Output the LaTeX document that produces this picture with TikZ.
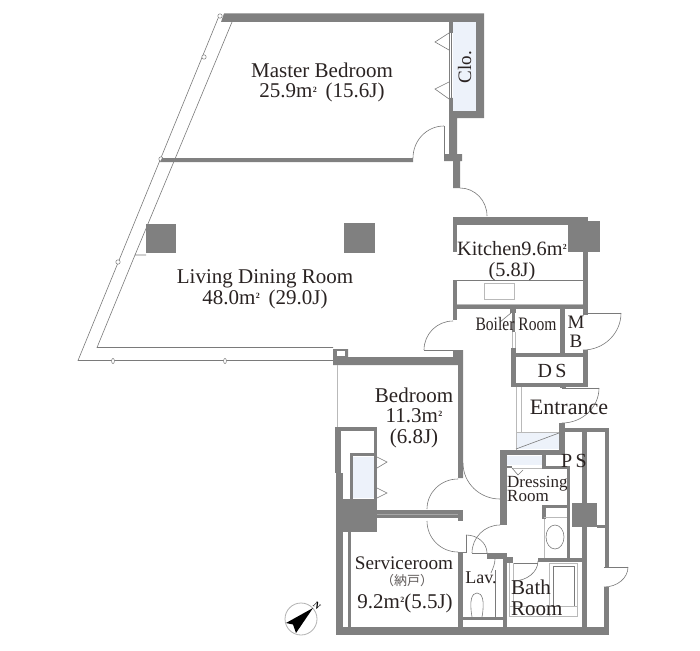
\documentclass[tikz,border=0pt]{standalone}
\usepackage{fontspec}
\setmainfont{Liberation Serif}
\newfontfamily\cjkjp{Noto Sans CJK JP}
\definecolor{wallgray}{HTML}{808080}
\definecolor{thingray}{HTML}{7A7A7A}
\definecolor{closetblue}{HTML}{EDF2FA}
\definecolor{labelink}{HTML}{2A2322}
\newcommand{\sqm}{m\kern.02em\raisebox{.55ex}{\scalebox{.38}{\bfseries 2}}}
\newcommand{\wl}[4]{\fill[wallfill] (#1,#2) rectangle (#3,#4);}
% door swing from P0 (#3,#4) to P1 (#5,#6) around centre (#1,#2)
\newcommand{\swing}[6]{\draw[thinline] (#3,#4) .. controls ({#3+.5523*(#5-#1)},{#4+.5523*(#6-#2)}) and ({#5+.5523*(#3-#1)},{#6+.5523*(#4-#2)}) .. (#5,#6);}
\tikzset{
  wallfill/.style={fill=wallgray},
  thinline/.style={draw=thingray,line width=.6pt},
  paleline/.style={draw=gray!55,line width=.6pt},
  closet/.style={fill=closetblue},
  knob/.style={draw=thingray,fill=white,line width=.5pt},
  roomlabel/.style={text=labelink,inner sep=0pt,anchor=base,font=\fontsize{21}{22}\selectfont},
  smalllabel/.style={text=labelink,inner sep=0pt,anchor=base west,font=\fontsize{17}{19}\selectfont},
}
\begin{document}
\begin{tikzpicture}[x=1pt,y=-1pt]
\useasboundingbox (0,0) rectangle (700,650);
\fill[white] (0,0) rectangle (700,650);
% glazing
\draw[thinline] (219,16) -- (78,360.5) -- (333,360.5);
\draw[thinline] (232,22) -- (135,255) -- (146,255);
\draw[thinline] (135,255) -- (97,347.5) -- (333,347.5);
\foreach \kx/\ky in {220/16,204/57,161/159,118/262}{\draw[knob] (\kx,\ky) ellipse (2.2 and 2.2);}
\foreach \kx/\ky in {113/361,225/361}{\draw[knob] (\kx,\ky) ellipse (1.4 and 2.6);}
% master bedroom walls
\fill[wallfill] (224,13.5) -- (484,13.5) -- (484,118) -- (457,118) -- (457,154) -- (462,154) -- (462,161) -- (460,161) -- (460,188) -- (453,188) -- (453,161) -- (444,161) -- (444,154) -- (449,154) -- (449,98) -- (453,98) -- (453,33) -- (449,33) -- (449,22) -- (221,22) -- cycle;
\fill[closet] (453,22) rectangle (476,111);
\wl{449}{33}{449.8}{98}
\draw[thinline] (451,33) -- (451,98);
\draw[thinline] (449,33) -- (435,42) -- (449,50);
\draw[thinline] (449,82) -- (435,89) -- (449,99);
\fill[wallfill] (162,158) -- (413,158) -- (413,162) -- (160,162) -- cycle;
\draw[thinline] (444,126) -- (444,158);
\swing{444}{158}{444}{126}{413}{158}
\swing{460}{216}{460}{188}{487}{216}
% columns
\wl{146}{224}{176}{253}
\wl{344}{223}{375}{253}
% kitchen
\wl{453}{217}{588}{225}
\wl{453}{217}{457}{252}
\wl{453}{280}{457}{320}
\wl{568}{225}{583}{252}
\wl{583}{221}{600}{252}
\wl{583}{218}{588}{315}
\draw[thinline] (457,280.5) -- (583,280.5);
\draw[paleline] (457,304) -- (583,304);
\wl{453}{305}{588}{309}
\draw[paleline] (484,283) rectangle (514,299);
% boiler room, MB, DS
\wl{510}{309}{516}{313}
\wl{512}{313}{515}{332}
\draw[paleline] (512,332) -- (512,348);
\draw[paleline] (515,332) -- (515,348);
\draw[thinline] (511,313) -- (500,322);
\wl{560}{309}{565}{353}
\wl{511}{353}{588}{357}
\wl{511}{348}{516}{387}
\wl{511}{383}{588}{387}
\wl{583}{350}{588}{387}
\draw[thinline] (583,313) -- (621,313);
\swing{583}{313}{621}{313}{583}{350}
\swing{453}{350}{453}{321}{424}{350}
\draw[thinline] (424,350) -- (453,350);
% bedroom
\fill[wallfill] (333,349) -- (348,349) -- (348,357) -- (453,357) -- (453,350) -- (463,350) -- (463,478) -- (458,478) -- (458,365) -- (333,365) -- cycle;
\fill[white] (337,351) rectangle (345,356);
\draw[paleline] (337,365) -- (337,427);
\wl{335}{427}{377}{431}
\wl{335}{427}{341}{473}
\wl{336}{473}{343}{500}
\wl{374}{427}{377}{500}
\wl{350}{453}{374}{456}
\wl{350}{453}{353}{499}
\fill[closet] (353,457) rectangle (374,498);
\draw[thinline] (377,457) -- (387,462) -- (377,468);
\draw[thinline] (377,488) -- (387,493) -- (377,498);
\wl{336}{499}{377}{532}
\swing{458}{509}{458}{479}{427}{509}
\wl{377}{510}{463}{518}
\draw[draw=gray!70,line width=.5pt] (377,514) -- (458,514);
\wl{458}{510}{463}{521}
\swing{458}{521}{427}{521}{458}{552}
\swing{500}{463}{463}{463}{500}{499}
% service room
\wl{458}{552}{463}{627}
\wl{336}{532}{343}{627}
\wl{347.5}{532}{351}{627}
\wl{336}{627}{609}{635}
% lavatory
\draw[thinline] (466,535) -- (466,553);
\wl{463}{552}{466}{553}
\swing{466}{553}{466}{535}{487}{553}
\wl{487}{553}{507}{559}
\wl{503}{553}{507}{627}
\wl{507}{557}{513}{563}
\swing{500}{553}{500}{525}{472}{553}
\draw[thinline] (472,553) -- (487,553);
\draw[thinline] (495,559) .. controls (495,564) and (493,568) .. (491,573);
\draw[thinline] (495,570) -- (495,617);
\draw[thinline] (472,617) .. controls (469,600) and (472,593) .. (477,593) .. controls (482,593) and (485,600) .. (482,617);
\wl{463}{617}{503}{620}
% dressing room
\wl{500}{450}{507}{525}
\wl{500}{450}{559}{455}
\fill[closet] (507,456) rectangle (542,465);
\wl{542}{455}{546}{469}
\wl{542}{466}{570}{469}
\wl{507}{466}{512}{468}
\draw[paleline] (512,468) -- (542,468);
\draw[thinline] (512,468) -- (518,475) -- (523,470);
\wl{567}{466}{570}{558}
\wl{542}{505}{546}{519}
\wl{542}{505}{567}{508}
\draw[paleline] (544,517.5) -- (567,517.5);
\draw[paleline] (544,519) -- (544,558);
\draw[thinline] (555,537) ellipse (9 and 12);
% bath
\wl{538}{557.5}{582}{561.5}
\draw[thinline] (513,563) -- (538,563);
\swing{513}{561}{538}{561}{513}{581}
\draw[paleline] (509,563) -- (509,616) -- (577,616) -- (577,563) -- (549,563);
\draw[paleline] (549,563) -- (549,616);
\draw[paleline] (513,563) -- (513,606);
\draw[thinline] (553,566) rectangle (574,606);
\draw[paleline] (509,606) -- (577,606);
% entrance
\fill[closet] (516,433) -- (559,433) -- (559,449) -- (516,449) -- cycle;
\draw[paleline] (516,387) -- (516,450);
\draw[paleline] (521,387) -- (521,432);
\draw[paleline] (516,432) -- (559,432);
\draw[thinline] (516,449) -- (559,433);
\wl{560}{386}{566}{388}
\draw[thinline] (562,388) -- (599,388);
\swing{562}{388}{599}{388}{562}{423}
\wl{559}{423}{565}{455}
% PS shaft and outer east wall
\wl{565}{428}{609}{432}
\wl{582}{432}{587}{627}
\wl{605}{432}{609}{568}
\wl{604}{587}{609}{635}
\wl{572}{503}{597}{527}
\wl{597}{525}{605}{528}
\draw[thinline] (604,567) -- (628,567);
\swing{604}{567}{628}{567}{604}{587}
% north mark
\draw[draw=gray!60,line width=.8pt] (301,619) circle (16);
\fill[black] (313,608) -- (286,623) -- (293,624.5) -- (296,633) -- cycle;
\node[rotate=-45,inner sep=0pt,font=\bfseries\fontsize{9}{9}\selectfont] (north) at (317,606) {N};
% labels
\node[roomlabel] (mbname) at (322,78) {Master Bedroom};
\node[roomlabel] (mbarea) at (322,98) {25.9\sqm\,\ (15.6J)};
\node[roomlabel,rotate=90,font=\fontsize{19}{20}\selectfont] (clo) at (471,67) {Clo.};
\node[roomlabel] (ldname) at (265,283) {Living Dining Room};
\node[roomlabel] (ldarea) at (265,304) {48.0\sqm\,\ (29.0J)};
\node[roomlabel,font=\fontsize{20.3}{22}\selectfont] (kitname) at (512,255) {Kitchen9.6\sqm};
\node[roomlabel,font=\fontsize{20.3}{22}\selectfont] (kitarea) at (512,276) {(5.8J)};
\node[roomlabel,font=\fontsize{19}{20}\selectfont,xscale=.82] (boiler) at (516,330) {Boiler Room};
\node[roomlabel,font=\fontsize{19}{20}\selectfont] (mbm) at (576,328) {M};
\node[roomlabel,font=\fontsize{19}{20}\selectfont] (mbb) at (576,347) {B};
\node[roomlabel,font=\fontsize{20}{20}\selectfont] (ds) at (552,377) {D\,S};
\node[roomlabel] (brname) at (414,402) {Bedroom};
\node[roomlabel] (brarea) at (414,422) {11.3\sqm};
\node[roomlabel] (brj) at (414,443) {(6.8J)};
\node[roomlabel,font=\fontsize{22}{22}\selectfont] (entrance) at (569,414) {Entrance};
\node[roomlabel,font=\fontsize{20}{22}\selectfont] (ps) at (574,467) {P\,S};
\node[smalllabel] (dress) at (507,487) {Dressing};
\node[smalllabel] (dressb) at (507,501) {Room};
\node[roomlabel,font=\fontsize{19.2}{21}\selectfont] (srname) at (404,569) {Serviceroom};
\node[inner sep=0pt,text=labelink!75,font=\cjkjp\fontsize{13}{14}\selectfont] (srjp) at (407,581) {（納戸）};
\node[roomlabel] (srarea) at (405,608) {9.2\sqm(5.5J)};
\node[roomlabel,font=\fontsize{18}{20}\selectfont] (lav) at (481,583) {Lav.};
\node[roomlabel,anchor=base west] (bath) at (511,594) {Bath};
\node[roomlabel,anchor=base west] (bathb) at (511,615) {Room};
\end{tikzpicture}
\end{document}
